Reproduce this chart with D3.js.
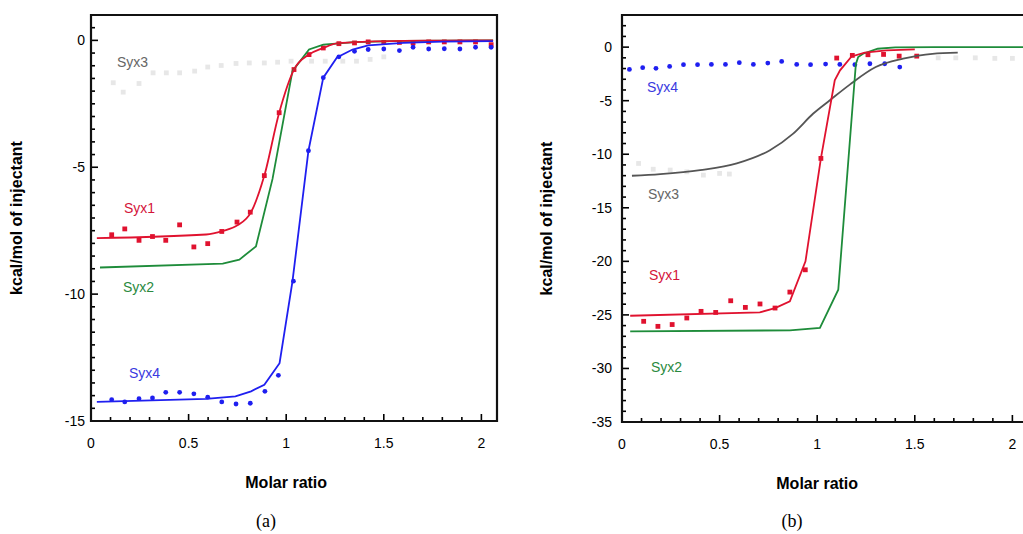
<!DOCTYPE html>
<html>
<head>
<meta charset="utf-8">
<script src="https://cdn.jsdelivr.net/npm/d3@7"></script>
<style>
  body { margin: 0; background: #fff; }
  svg { display: block; font-family: "Liberation Sans", Arial, sans-serif; }
</style>
</head>
<body>
<svg id="chart" width="1023" height="534"></svg>
<script>
// ---- panel (a) ----
var aSyx1PtsX = [0.106,0.173,0.246,0.315,0.383,0.454,0.527,0.598,0.67,0.748,0.816,0.888,0.964,1.04,1.117,1.19,1.27,1.35,1.42,1.50,1.58,1.65,1.73,1.81,1.89,1.97,2.05]
var aSyx1PtsY = [-7.66,-7.43,-7.88,-7.73,-7.88,-7.27,-8.14,-8.01,-7.53,-7.16,-6.77,-5.33,-2.85,-1.15,-0.56,-0.30,-0.13,-0.10,-0.06,-0.08,-0.08,-0.10,-0.06,-0.06,-0.06,-0.06,-0.17]
var aSyx1FitX = [0.03,0.59,0.675,0.75,0.82,0.888,0.964,1.04,1.117,1.19,1.26,1.42,1.6,1.8,2.06]
var aSyx1FitY = [-7.79,-7.65,-7.51,-7.29,-6.77,-5.33,-2.85,-1.15,-0.56,-0.30,-0.12,-0.05,-0.02,-0.01,0]

var aSyx2FitX = [0.046,0.675,0.76,0.845,0.93,1.032,1.117,1.19,1.35,1.6,2.06]
var aSyx2FitY = [-8.95,-8.8,-8.64,-8.12,-5.46,-1.21,-0.36,-0.17,-0.07,-0.02,0]

var aSyx4PtsX = [0.106,0.173,0.246,0.315,0.383,0.454,0.527,0.598,0.67,0.743,0.816,0.891,0.96,1.037,1.114,1.19,1.27,1.35,1.42,1.50,1.58,1.65,1.73,1.81,1.89,1.97,2.05]
var aSyx4PtsY = [-14.16,-14.25,-14.12,-14.09,-13.87,-13.87,-13.93,-14.06,-14.25,-14.33,-14.3,-13.83,-13.2,-9.49,-4.35,-1.47,-0.65,-0.43,-0.36,-0.34,-0.40,-0.27,-0.34,-0.33,-0.34,-0.27,-0.27]
var aSyx4FitX = [0.03,0.59,0.74,0.82,0.888,0.966,1.032,1.114,1.19,1.26,1.34,1.42,1.6,1.8,2.06]
var aSyx4FitY = [-14.25,-14.13,-14.03,-13.83,-13.57,-12.72,-9.51,-4.35,-1.47,-0.67,-0.36,-0.2,-0.1,-0.05,-0.03]

var aSyx3PtsX = [0.114,0.165,0.246,0.318,0.386,0.454,0.531,0.598,0.667,0.743,0.811,0.888,0.956,1.025,1.13,1.2,1.29,1.36,1.43,1.5]
var aSyx3PtsY = [-1.67,-2.04,-1.70,-1.28,-1.28,-1.28,-1.21,-1.05,-0.99,-0.91,-0.89,-0.89,-0.86,-0.82,-0.82,-0.82,-0.82,-0.82,-0.75,-0.65]

// ---- panel (b) ----
var bSyx4PtsX = [0.038,0.106,0.174,0.244,0.315,0.387,0.458,0.53,0.601,0.673,0.747,0.818,0.895,0.966,1.043,1.116,1.193,1.27,1.346,1.423]
var bSyx4PtsY = [-2.08,-1.92,-1.98,-1.80,-1.64,-1.64,-1.61,-1.61,-1.45,-1.61,-1.49,-1.33,-1.61,-1.64,-1.58,-1.61,-1.64,-1.55,-1.55,-1.86]

var bSyx1PtsX = [0.111,0.184,0.257,0.332,0.405,0.48,0.557,0.632,0.707,0.784,0.86,0.939,1.019,1.10,1.18,1.26,1.34,1.42,1.51]
var bSyx1PtsY = [-25.6,-26.07,-25.9,-25.29,-24.67,-24.77,-23.68,-24.3,-23.98,-24.36,-22.87,-20.79,-10.39,-1.02,-0.77,-0.71,-0.68,-0.84,-0.84]
var bSyx1FitX = [0.042,0.706,0.784,0.86,0.94,1.019,1.09,1.117,1.176,1.244,1.355,1.5]
var bSyx1FitY = [-25.08,-24.77,-24.36,-23.74,-20.0,-10.39,-3.1,-2.17,-0.87,-0.52,-0.31,-0.21]

var bSyx2FitX = [0.042,0.86,1.014,1.108,1.198,1.21,1.235,1.31,1.4,1.6,2.1]
var bSyx2FitY = [-26.54,-26.44,-26.22,-22.65,-1.6,-0.93,-0.62,-0.15,-0.03,0,0]

var bSyx3FitX = [0.051,0.196,0.4,0.588,0.758,0.877,0.98,1.065,1.167,1.3,1.44,1.59,1.72]
var bSyx3FitY = [-12.01,-11.85,-11.48,-10.86,-9.62,-8.07,-6.2,-4.96,-3.5,-1.86,-1.08,-0.62,-0.52]
var bSyx3PtsX = [0.085,0.16,0.247,0.332,0.417,0.5,0.55,1.62,1.71,1.81,1.91,2.0]
var bSyx3PtsY = [-10.86,-11.4,-11.48,-11.64,-11.95,-11.79,-11.85,-1.0,-1.0,-1.0,-1.05,-1.05]

var xTicks = [0, 0.5, 1, 1.5, 2]
var aYTicks = [0, -5, -10, -15]
var bYTicks = [0, -5, -10, -15, -20, -25, -30, -35]

var red = "#e0122f", green = "#1e8c3a", blue = "#1f1ff0", gray = "#555"

var svg = d3.select("#chart")

function zip(xs, ys) {
  return xs.map(function(x, i) { return [x, ys[i]] })
}

function drawPanel(p) {
  var x = d3.scaleLinear().domain([0, 2.08]).range([p.left, p.left + 406])
  var y = d3.scaleLinear().domain(p.ydom).range([p.bottom, p.top])
  var g = svg.append("g")

  // clip so nothing spills past the frame
  var clipId = "clip" + p.name
  g.append("clipPath").attr("id", clipId).append("rect")
    .attr("x", p.left).attr("y", p.top).attr("width", 406).attr("height", p.bottom - p.top)

  // inward ticks
  var xMinor = d3.range(0, 2.081, 0.1)
  g.selectAll(".xt").data(xMinor).enter().append("line")
    .attr("x1", function(d) { return x(d) }).attr("x2", function(d) { return x(d) })
    .attr("y1", p.bottom).attr("y2", function(d, i) { return p.bottom - (i % 5 == 0 ? 7 : 4) })
    .attr("stroke", "#000").attr("stroke-width", 1.6)
  var yMinor = d3.range(p.ydom[0], p.ydom[1] + 0.001, p.ystep)
  g.selectAll(".yt").data(yMinor).enter().append("line")
    .attr("y1", function(d) { return y(d) }).attr("y2", function(d) { return y(d) })
    .attr("x1", p.left).attr("x2", function(d) { return p.left + (Math.abs(d % 5) < 0.001 ? 7 : 4) })
    .attr("stroke", "#000").attr("stroke-width", 1.6)

  // frame
  var fr = g.append("path").attr("fill", "none").attr("stroke", "#111").attr("stroke-width", 2.2)
  if (p.name == "a")
    fr.attr("d", "M" + p.left + "," + p.top + "H" + (p.left + 406) + "V" + p.bottom + "H" + p.left + "Z")
  else
    fr.attr("d", "M1023," + p.top + "H" + p.left + "V" + p.bottom + "H1023")

  // tick labels
  g.selectAll(".xl").data(xTicks).enter().append("text")
    .attr("x", function(d) { return x(d) }).attr("y", p.bottom + 27)
    .attr("text-anchor", "middle").attr("font-size", 14)
    .text(function(d) { return d })
  g.selectAll(".yl").data(p.yticks).enter().append("text")
    .attr("x", p.labelX).attr("y", function(d) { return y(d) + 5 })
    .attr("text-anchor", "end").attr("font-size", 14)
    .text(function(d) { return d })

  // titles
  g.append("text").attr("x", x(1)).attr("y", p.bottom + 67)
    .attr("text-anchor", "middle").attr("font-size", 16).attr("font-weight", "bold")
    .text("Molar ratio")
  g.append("text")
    .attr("transform", "translate(" + p.titleX + "," + ((p.top + p.bottom) / 2) + ") rotate(-90)")
    .attr("text-anchor", "middle").attr("font-size", 16).attr("font-weight", "bold")
    .text("kcal/mol of injectant")
  g.append("text").attr("x", p.capX).attr("y", 527)
    .attr("text-anchor", "middle").attr("font-size", 18)
    .attr("font-family", "'Liberation Serif', 'DejaVu Serif', serif")
    .text(p.cap)

  var plot = g.append("g").attr("clip-path", "url(#" + clipId + ")")

  p.points.forEach(function(s) {
    var sel = plot.selectAll(null).data(zip(s.x, s.y)).enter()
    if (s.shape == "square") {
      sel.append("rect")
        .attr("x", function(d) { return x(d[0]) - 2.4 }).attr("y", function(d) { return y(d[1]) - 2.4 })
        .attr("width", 4.8).attr("height", 4.8).attr("fill", s.color).attr("opacity", s.op || 1)
    } else {
      sel.append("circle")
        .attr("cx", function(d) { return x(d[0]) }).attr("cy", function(d) { return y(d[1]) })
        .attr("r", s.r || 2.4).attr("fill", s.color).attr("opacity", s.op || 1)
    }
  })
  p.fits.forEach(function(s) {
    var line = d3.line().x(function(d) { return x(d[0]) }).y(function(d) { return y(d[1]) })
    if (s.smooth) line.curve(d3.curveMonotoneX)
    plot.append("path").datum(zip(s.x, s.y)).attr("d", line)
      .attr("fill", "none").attr("stroke", s.color).attr("stroke-width", 1.8)
  })

  p.labels.forEach(function(l) {
    g.append("text").attr("x", l[1]).attr("y", l[2]).attr("font-size", 14)
      .attr("fill", l[3]).text(l[0])
  })
}

drawPanel({
  name: "a", left: 91, top: 15, bottom: 421, ydom: [-15, 1], ystep: 0.5,
  yticks: aYTicks, labelX: 85, titleX: 22, capX: 266, cap: "(a)",
  points: [
    { x: aSyx3PtsX, y: aSyx3PtsY, color: "#bbb", shape: "square", op: 0.35 },
    { x: aSyx1PtsX, y: aSyx1PtsY, color: red, shape: "square" },
    { x: aSyx4PtsX, y: aSyx4PtsY, color: blue, shape: "circle" }
  ],
  fits: [
    { x: aSyx2FitX, y: aSyx2FitY, color: green },
    { x: aSyx1FitX, y: aSyx1FitY, color: red, smooth: true },
    { x: aSyx4FitX, y: aSyx4FitY, color: blue }
  ],
  labels: [
    ["Syx3", 117, 67, "#666"],
    ["Syx1", 124, 213, "#d4143a"],
    ["Syx2", 123, 292, "#2a8a3e"],
    ["Syx4", 129, 378, "#3a3ae0"]
  ]
})

drawPanel({
  name: "b", left: 622, top: 15, bottom: 422, ydom: [-35, 3], ystep: 1,
  yticks: bYTicks, labelX: 612, titleX: 552, capX: 792, cap: "(b)",
  points: [
    { x: bSyx3PtsX, y: bSyx3PtsY, color: "#bbb", shape: "square", op: 0.35 },
    { x: bSyx1PtsX, y: bSyx1PtsY, color: red, shape: "square" },
    { x: bSyx4PtsX, y: bSyx4PtsY, color: blue, shape: "circle" }
  ],
  fits: [
    { x: bSyx3FitX, y: bSyx3FitY, color: gray, smooth: true },
    { x: bSyx2FitX, y: bSyx2FitY, color: green },
    { x: bSyx1FitX, y: bSyx1FitY, color: red }
  ],
  labels: [
    ["Syx4", 647, 92, "#3a3ae0"],
    ["Syx3", 648, 199, "#666"],
    ["Syx1", 649, 280, "#d4143a"],
    ["Syx2", 651, 372, "#2a8a3e"]
  ]
})
</script>
</body>
</html>
